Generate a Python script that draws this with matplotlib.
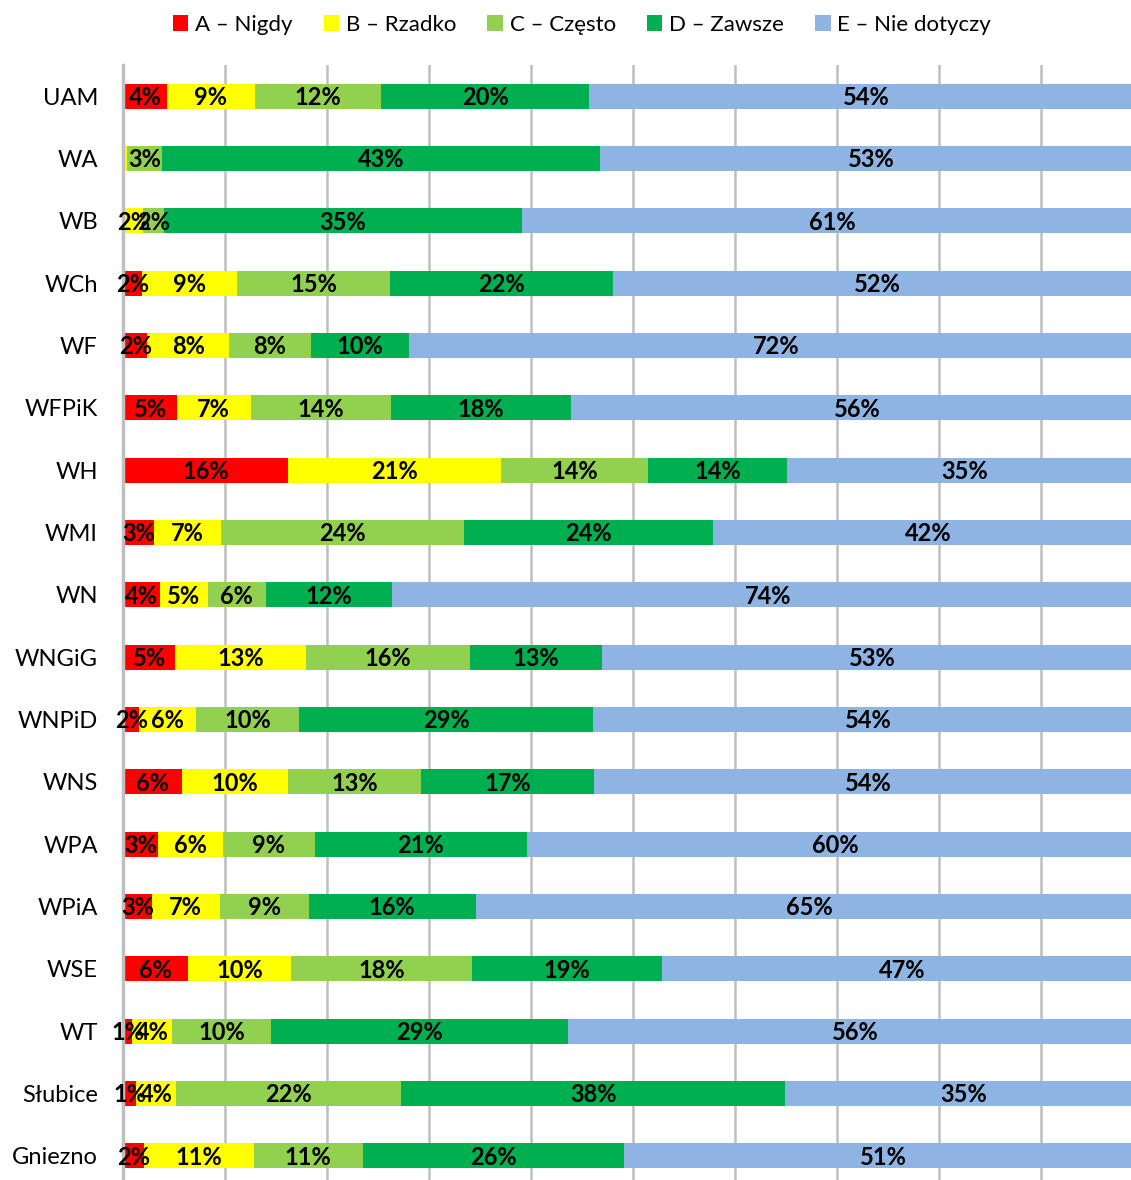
import matplotlib.pyplot as plt
from matplotlib.patches import Patch
import numpy as np

categories = ["UAM", "WA", "WB", "WCh", "WF", "WFPiK", "WH", "WMI", "WN", "WNGiG",
              "WNPiD", "WNS", "WPA", "WPiA", "WSE", "WT", "Słubice", "Gniezno"]
series_names = ["A – Nigdy", "B – Rzadko", "C – Często", "D – Zawsze", "E – Nie dotyczy"]
colors = ["#FF0000", "#FFFF00", "#92D050", "#00B050", "#8EB4E3"]

a_nigdy = [4.3, 0.0, 0.0, 1.9, 2.4, 5.3, 16.2, 3.0, 3.6, 5.1, 1.6, 5.8, 3.4, 2.8, 6.4, 0.9, 1.3, 2.1]
b_rzadko = [8.6, 0.4, 2.0, 9.3, 8.0, 7.2, 20.9, 6.6, 4.7, 12.8, 5.6, 10.4, 6.4, 6.7, 10.1, 3.9, 3.9, 10.7]
c_czesto = [12.4, 3.4, 2.0, 15.0, 8.0, 13.8, 14.4, 23.8, 5.7, 16.1, 10.1, 13.0, 9.0, 8.7, 17.7, 9.7, 22.1, 10.7]
d_zawsze = [20.4, 43.0, 35.1, 21.8, 9.6, 17.6, 13.6, 24.4, 12.4, 13.0, 28.8, 17.0, 20.8, 16.4, 18.6, 29.1, 37.6, 25.6]
e_nie_dotyczy = [54.3, 53.2, 60.9, 52.0, 72.0, 56.1, 34.9, 42.2, 73.6, 53.0, 53.9, 53.8, 60.4, 65.4, 47.2, 56.4, 35.1, 50.9]

series = [a_nigdy, b_rzadko, c_czesto, d_zawsze, e_nie_dotyczy]

plt.rcParams['font.family'] = ['Lato', 'DejaVu Sans']

fig = plt.figure(figsize=(11.31, 11.80), dpi=100)
# plot area runs past the right and bottom edge of the picture, as in the reference crop
ax = fig.add_axes([123 / 1131, 1 - 1187 / 1180, 1020 / 1131, (1187 - 65) / 1180])

y = np.arange(len(categories))
left = np.zeros(len(categories))
for name, vals, col in zip(series_names, series, colors):
    vals = np.array(vals)
    ax.barh(y, vals, left=left, height=0.4, color=col, label=name, zorder=2)
    for yi, (l, v) in enumerate(zip(left, vals)):
        if v >= 0.5:
            ax.text(l + v / 2, yi + 0.02, f"{v:.0f}%", ha="center", va="center",
                    fontsize=17, fontweight="bold", color="black", zorder=3)
    left += vals

ax.set_xlim(0, 100)
ax.set_ylim(len(categories) - 0.5, -0.5)
ax.set_xticks(np.arange(0, 101, 10))
ax.set_xticklabels([])
ax.set_yticks(y)
ax.set_yticklabels(categories, fontsize=17)
ax.tick_params(axis="both", length=0)
ax.tick_params(axis="y", pad=18)
ax.grid(axis="x", color="#BFBFBF", linewidth=1.8, zorder=0)
for side in ["top", "right", "bottom"]:
    ax.spines[side].set_visible(False)
ax.spines["left"].set_color("#BFBFBF")
ax.spines["left"].set_linewidth(2.5)

handles = [Patch(facecolor=c, label=n) for n, c in zip(series_names, colors)]
fig.legend(handles=handles, loc="center", bbox_to_anchor=(582 / 1131, 1 - 25 / 1180),
           ncol=5, frameon=False, fontsize=16, handlelength=0.7, handleheight=0.7,
           handletextpad=0.3, columnspacing=1.4)

fig.savefig("out.png", dpi=100)
